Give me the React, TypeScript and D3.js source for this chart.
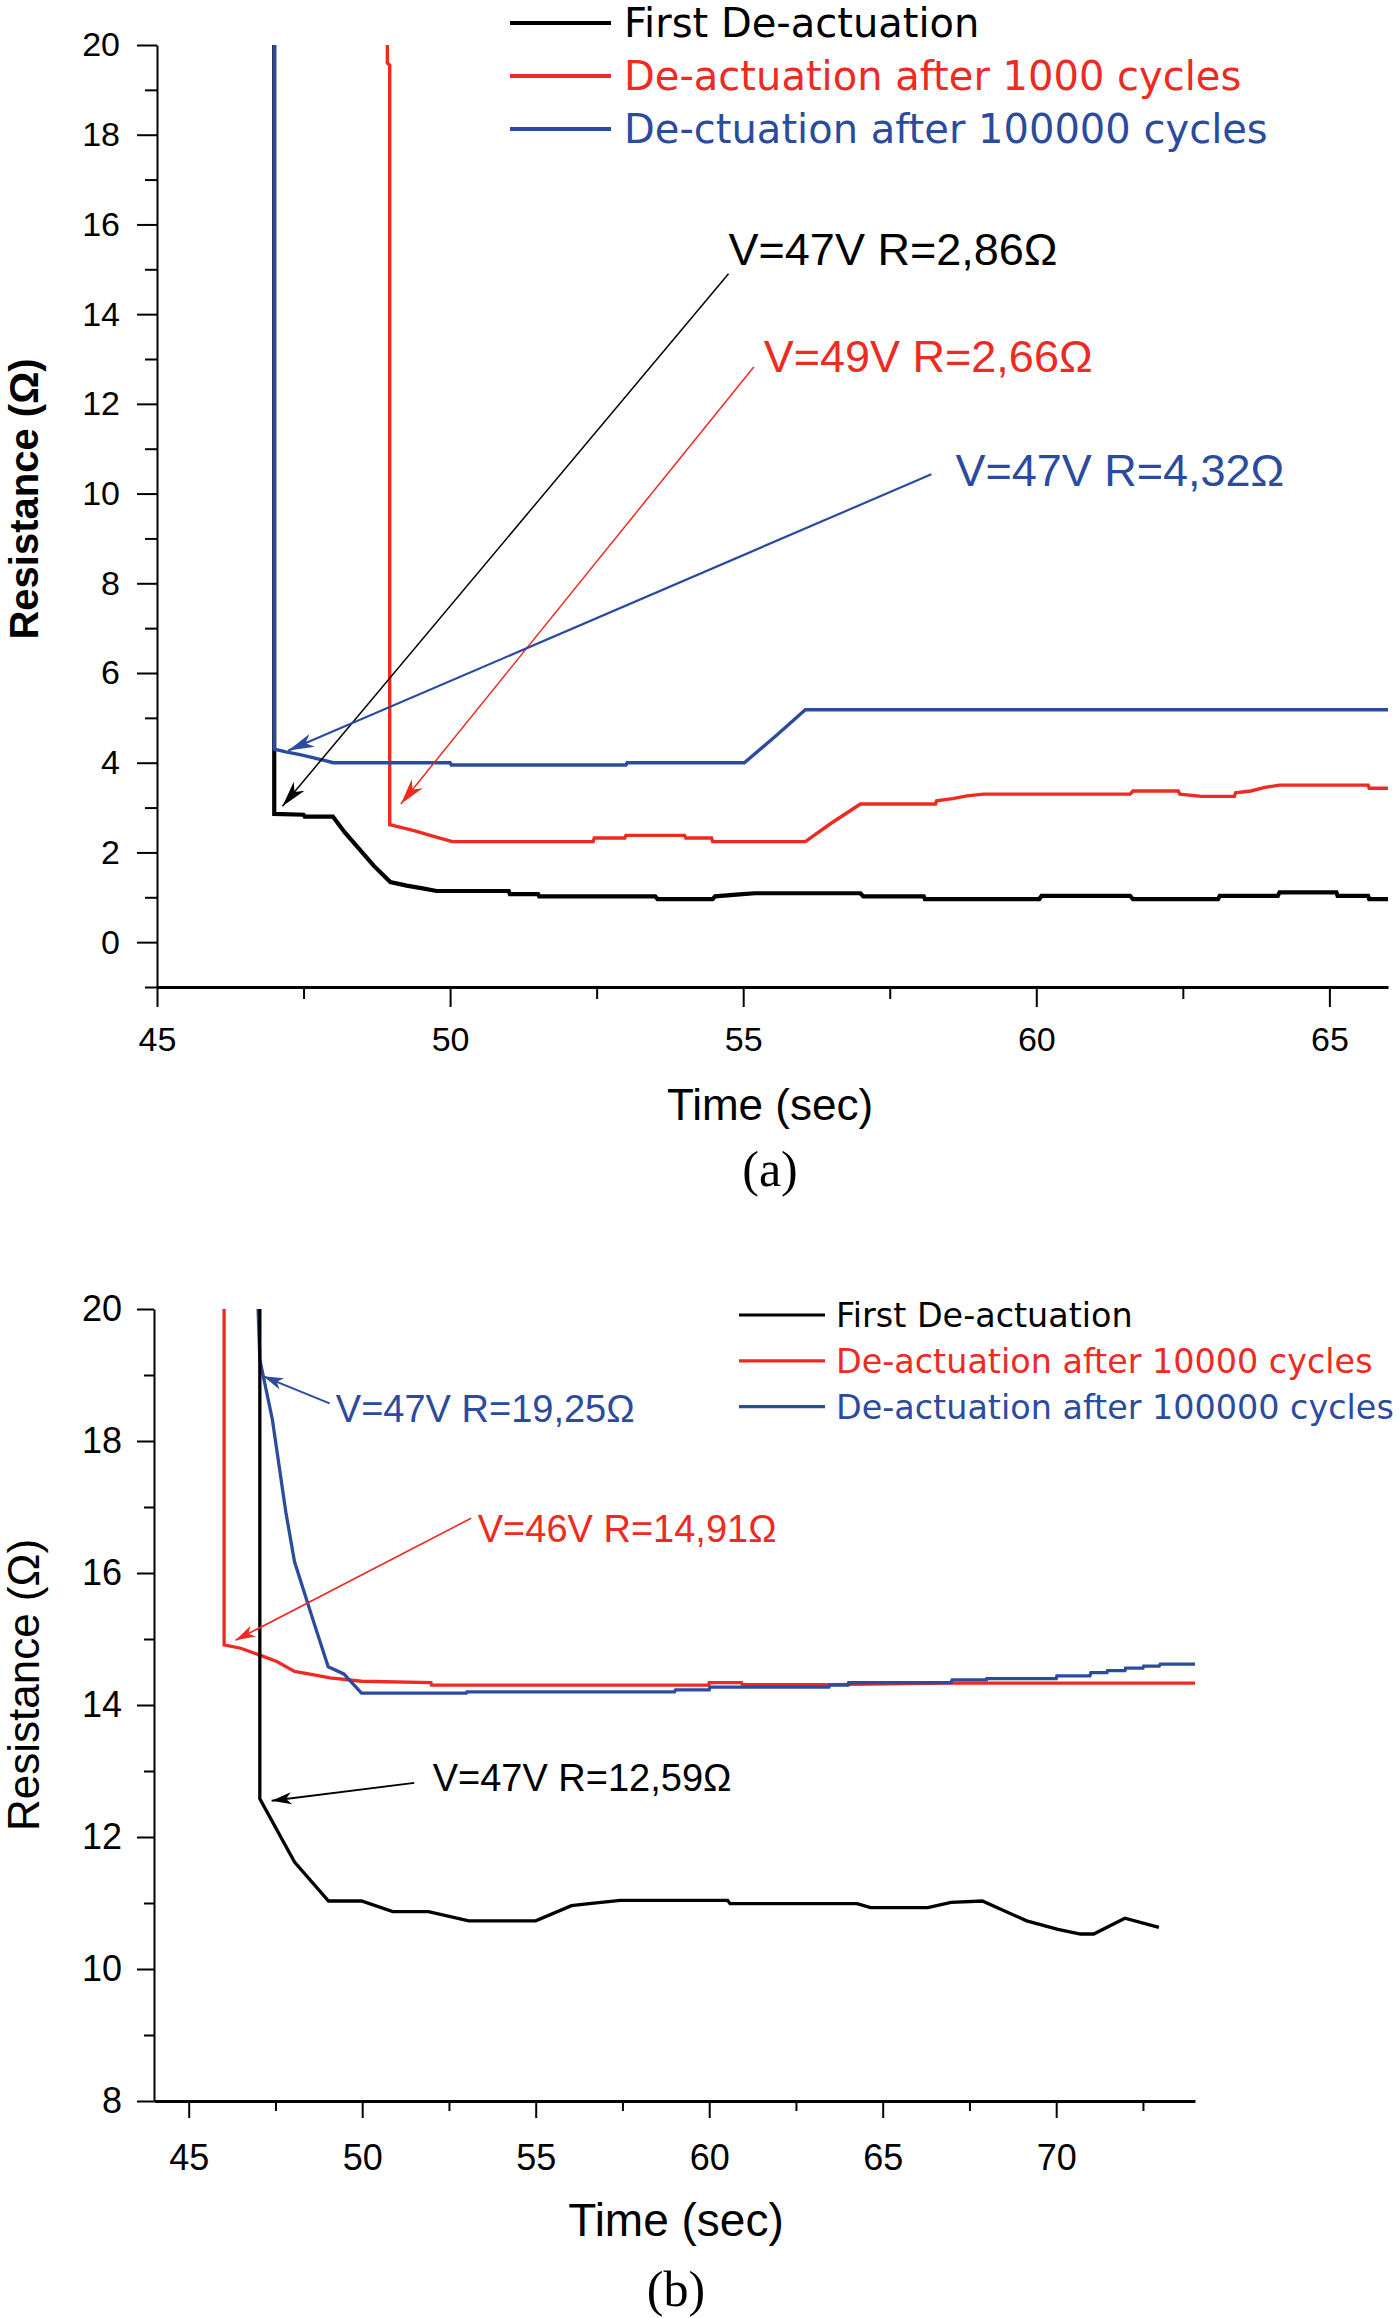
import * as d3 from "d3";
import { useEffect, useRef } from "react";

type Pt = [number, number];

const width = 1400;
const height = 2318;

// ---- panel (a) data: [time (sec), resistance (ohm)]
const firstA: Pt[] = [
  [47.0, 20], [47.0, 2.86], [47.5, 2.84], [47.52, 2.8], [48.0, 2.8], [48.2, 2.45], [48.7, 1.7],
  [48.98, 1.34], [49.26, 1.26], [49.53, 1.2], [49.77, 1.14], [51.0, 1.14], [51.02, 1.07], [51.5, 1.07],
  [51.52, 1.02], [53.5, 1.02], [53.54, 0.96], [54.48, 0.96], [54.52, 1.02], [54.99, 1.07], [55.2, 1.09],
  [57.0, 1.09], [57.05, 1.02], [58.08, 1.02], [58.1, 0.96], [60.05, 0.96], [60.09, 1.03], [61.6, 1.03],
  [61.65, 0.96], [63.1, 0.96], [63.13, 1.03], [64.12, 1.03], [64.15, 1.11], [65.12, 1.11], [65.14, 1.03],
  [65.66, 1.03], [65.68, 0.96], [66, 0.96]
];
const after1000A: Pt[] = [
  [48.93, 20], [48.93, 19.6], [48.97, 19.55], [48.97, 2.62], [49.16, 2.56], [49.4, 2.48], [49.66, 2.38],
  [49.87, 2.3], [50.04, 2.24], [52.44, 2.24], [52.46, 2.32], [52.98, 2.32], [53.0, 2.38], [54.0, 2.38],
  [54.02, 2.32], [54.46, 2.32], [54.48, 2.24], [56.06, 2.24], [56.5, 2.65], [57.0, 3.08], [58.28, 3.08],
  [58.3, 3.15], [58.57, 3.2], [58.82, 3.26], [59.1, 3.3], [61.6, 3.3], [61.65, 3.37], [62.42, 3.37],
  [62.45, 3.3], [62.82, 3.25], [63.38, 3.25], [63.4, 3.33], [63.66, 3.37], [63.9, 3.45], [64.15, 3.5],
  [65.66, 3.5], [65.68, 3.43], [66, 3.43]
];
const after100000A: Pt[] = [
  [47.0, 20], [47.0, 4.3], [47.2, 4.24], [47.44, 4.18], [47.64, 4.12], [48.01, 4.0], [50.0, 4.0],
  [50.02, 3.95], [53.0, 3.95], [53.02, 4.0], [55.02, 4.0], [55.56, 4.6], [56.06, 5.18], [66, 5.18]
];
const legendA = ["First De-actuation", "De-actuation after 1000 cycles", "De-ctuation after 100000 cycles"];
const notesA = ["V=47V R=2,86Ω", "V=49V R=2,66Ω", "V=47V R=4,32Ω"];
// label anchor, arrow start, arrow tip (data units)
const noteTextA: Pt[] = [[54.75, 15.09], [55.35, 12.71], [58.62, 10.17]];
const noteFromA: Pt[] = [[54.75, 14.9], [55.18, 12.82], [58.21, 10.43]];
const noteToA: Pt[] = [[47.14, 3.03], [49.16, 3.08], [47.24, 4.27]];
const xTicksA = [45, 50, 55, 60, 65];
const xMinorA = [47.5, 52.5, 57.5, 62.5];
const yTicksA = [0, 2, 4, 6, 8, 10, 12, 14, 16, 18, 20];
const yMinorA = [-1, 1, 3, 5, 7, 9, 11, 13, 15, 17, 19];

// ---- panel (b) data
const firstB: Pt[] = [
  [47.05, 20], [47.05, 12.58], [48.05, 11.62], [49.03, 11.03], [49.98, 11.03], [50.88, 10.87],
  [51.91, 10.87], [53.07, 10.73], [55.0, 10.73], [56.03, 10.96], [56.54, 10.99], [57.44, 11.04],
  [60.53, 11.04], [60.6, 10.99], [64.26, 10.99], [64.65, 10.93], [66.3, 10.93], [66.97, 11.01],
  [67.87, 11.03], [69.15, 10.73], [70.05, 10.6], [70.7, 10.53], [71.08, 10.53], [71.98, 10.77],
  [72.96, 10.63]
];
const after10000B: Pt[] = [
  [46.02, 20], [46.02, 14.91], [46.5, 14.86], [47.03, 14.76], [47.54, 14.66], [48.05, 14.51],
  [48.57, 14.46], [49.07, 14.41], [49.98, 14.36], [51.98, 14.34], [52.0, 14.3], [59.99, 14.3],
  [60.0, 14.34], [60.93, 14.34], [60.95, 14.31], [63.5, 14.31], [66.97, 14.33], [74, 14.33]
];
const after100000B: Pt[] = [
  [47.0, 20], [47.05, 19.23], [47.41, 18.33], [47.8, 16.92], [48.05, 16.17], [48.57, 15.31],
  [49.02, 14.58], [49.47, 14.47], [49.98, 14.18], [53.0, 14.18], [53.02, 14.2], [59.0, 14.2],
  [59.03, 14.23], [60.0, 14.23], [60.02, 14.27], [63.45, 14.27], [63.47, 14.3], [64.0, 14.3],
  [64.02, 14.34], [66.97, 14.34], [67.0, 14.38], [67.99, 14.38], [68.0, 14.4], [70.0, 14.4],
  [70.02, 14.44], [70.97, 14.44], [71.0, 14.49], [71.46, 14.49], [71.48, 14.52], [71.98, 14.52],
  [72.0, 14.56], [72.5, 14.56], [72.52, 14.59], [72.97, 14.59], [73.0, 14.62], [74, 14.62]
];
const legendB = ["First De-actuation", "De-actuation after 10000 cycles", "De-actuation after 100000 cycles"];
const notesB = ["V=47V R=12,59Ω", "V=46V R=14,91Ω", "V=47V R=19,25Ω"];
const noteTextB: Pt[] = [[52.03, 12.69], [53.33, 16.47], [49.24, 18.29]];
const noteFromB: Pt[] = [[51.5, 12.82], [53.14, 16.83], [49.06, 18.57]];
const noteToB: Pt[] = [[47.39, 12.55], [46.35, 14.98], [47.15, 18.98]];
const xTicksB = [45, 50, 55, 60, 65, 70];
const xMinorB = [47.5, 52.5, 57.5, 62.5, 67.5, 72.5];
const yTicksB = [8, 10, 12, 14, 16, 18, 20];
const yMinorB = [9, 11, 13, 15, 17, 19];

const colors = ["#000000", "#ee2a22", "#2b4c9e"];
const sans = "'Liberation Sans', Arial, sans-serif";
const wide = "'DejaVu Sans', Verdana, sans-serif";
const serif = "'Liberation Serif', 'Times New Roman', serif";

type Panel = {
  series: Pt[][];
  order: number[];
  xDomain: Pt;
  xRange: Pt;
  yDomain: Pt;
  yRange: Pt;
  xTicks: number[];
  xMinor: number[];
  yTicks: number[];
  yMinor: number[];
  major: number;
  minor: number;
  xPad: number;
  yPad: number;
  tickFont: number;
  lineWidth: number[];
  legend: string[];
  legendX: [number, number, number];
  legendY: number;
  legendStep: number;
  legendFont: number;
  legendLine: number;
  notes: string[];
  noteText: Pt[];
  noteFrom: Pt[];
  noteTo: Pt[];
  noteFont: number;
  noteWidth: number[];
  head: Pt;
};

const panels: Panel[] = [
  {
    series: [firstA, after1000A, after100000A],
    order: [0, 1, 2],
    xDomain: [45, 66],
    xRange: [157, 1388],
    yDomain: [-1, 20],
    yRange: [987, 45],
    xTicks: xTicksA,
    xMinor: xMinorA,
    yTicks: yTicksA,
    yMinor: yMinorA,
    major: 20,
    minor: 12,
    xPad: 20,
    yPad: 17,
    tickFont: 34,
    lineWidth: [4.2, 3.4, 3.4],
    legend: legendA,
    legendX: [510, 611, 624],
    legendY: 23,
    legendStep: 53,
    legendFont: 40,
    legendLine: 4,
    notes: notesA,
    noteText: noteTextA,
    noteFrom: noteFromA,
    noteTo: noteToA,
    noteFont: 45,
    noteWidth: [1.5, 1.5, 2.2],
    head: [26, 7]
  },
  {
    series: [firstB, after10000B, after100000B],
    order: [1, 2, 0],
    xDomain: [44, 74],
    xRange: [154, 1195],
    yDomain: [8, 20],
    yRange: [2101, 1309],
    xTicks: xTicksB,
    xMinor: xMinorB,
    yTicks: yTicksB,
    yMinor: yMinorB,
    major: 17,
    minor: 10,
    xPad: 26,
    yPad: 15,
    tickFont: 36,
    lineWidth: [3.3, 3.3, 3.3],
    legend: legendB,
    legendX: [739, 825, 836],
    legendY: 1315,
    legendStep: 45.8,
    legendFont: 33.4,
    legendLine: 3.2,
    notes: notesB,
    noteText: noteTextB,
    noteFrom: noteFromB,
    noteTo: noteToB,
    noteFont: 38,
    noteWidth: [2, 1.6, 2],
    head: [20, 6]
  }
];

function headPath(tip: Pt, from: Pt, len: number, half: number) {
  const a = Math.atan2(tip[1] - from[1], tip[0] - from[0]);
  const c = Math.cos(a);
  const s = Math.sin(a);
  const bx = tip[0] - c * len;
  const by = tip[1] - s * len;
  const nx = tip[0] - c * len * 0.72;
  const ny = tip[1] - s * len * 0.72;
  return `M${tip[0]},${tip[1]}L${bx - s * half},${by + c * half}L${nx},${ny}L${bx + s * half},${by - c * half}Z`;
}

function drawPanel(svg: d3.Selection<SVGSVGElement, unknown, null, undefined>, p: Panel) {
  const x = d3.scaleLinear(p.xDomain, p.xRange);
  const y = d3.scaleLinear(p.yDomain, p.yRange);
  const g = svg.append("g");
  const bottom = p.yRange[0];
  const left = p.xRange[0];

  // minor ticks
  g.append("g")
    .attr("transform", `translate(0,${bottom})`)
    .call(d3.axisBottom(x).tickValues(p.xMinor).tickSize(p.minor).tickFormat(() => ""))
    .call((a) => a.select(".domain").remove());
  g.append("g")
    .attr("transform", `translate(${left},0)`)
    .call(d3.axisLeft(y).tickValues(p.yMinor).tickSize(p.minor).tickFormat(() => ""))
    .call((a) => a.select(".domain").remove());

  const xAxis = g
    .append("g")
    .attr("transform", `translate(0,${bottom})`)
    .call(
      d3.axisBottom(x).tickValues(p.xTicks).tickSize(p.major).tickSizeOuter(0).tickPadding(p.xPad).tickFormat(d3.format("d"))
    );
  xAxis.select(".domain").attr("stroke-width", 3);

  const yAxis = g
    .append("g")
    .attr("transform", `translate(${left},0)`)
    .call(
      d3.axisLeft(y).tickValues(p.yTicks).tickSize(p.major).tickSizeOuter(0).tickPadding(p.yPad).tickFormat(d3.format("d"))
    );
  yAxis.select(".domain").attr("stroke-width", 2);

  g.selectAll(".tick line").attr("stroke", "#000").attr("stroke-width", 2);
  g.selectAll(".tick text").attr("font-family", sans).attr("font-size", p.tickFont).attr("fill", "#000");

  const line = d3
    .line<Pt>()
    .x((d) => x(d[0]))
    .y((d) => y(d[1]));

  p.order.forEach((i) => {
    g.append("path")
      .datum(p.series[i])
      .attr("d", line)
      .attr("fill", "none")
      .attr("stroke", colors[i])
      .attr("stroke-width", p.lineWidth[i]);
  });

  // legend
  p.legend.forEach((label, i) => {
    const ly = p.legendY + i * p.legendStep;
    g.append("line")
      .attr("x1", p.legendX[0])
      .attr("x2", p.legendX[1])
      .attr("y1", ly)
      .attr("y2", ly)
      .attr("stroke", colors[i])
      .attr("stroke-width", p.legendLine);
    g.append("text")
      .attr("x", p.legendX[2])
      .attr("y", ly)
      .attr("dy", "0.36em")
      .attr("font-family", wide)
      .attr("font-size", p.legendFont)
      .attr("fill", colors[i])
      .text(label);
  });

  // annotations with arrows
  p.notes.forEach((label, i) => {
    const from: Pt = [x(p.noteFrom[i][0]), y(p.noteFrom[i][1])];
    const tip: Pt = [x(p.noteTo[i][0]), y(p.noteTo[i][1])];
    g.append("line")
      .attr("x1", from[0])
      .attr("y1", from[1])
      .attr("x2", tip[0])
      .attr("y2", tip[1])
      .attr("stroke", colors[i])
      .attr("stroke-width", p.noteWidth[i]);
    g.append("path").attr("d", headPath(tip, from, p.head[0], p.head[1])).attr("fill", colors[i]);
    g.append("text")
      .attr("x", x(p.noteText[i][0]))
      .attr("y", y(p.noteText[i][1]))
      .attr("font-family", sans)
      .attr("font-size", p.noteFont)
      .attr("fill", colors[i])
      .text(label);
  });
}

export default function App() {
  const svgRef = useRef<SVGSVGElement | null>(null);

  useEffect(() => {
    if (!svgRef.current) {
      return;
    }
    const svg = d3.select(svgRef.current);
    svg.selectAll("g").remove();
    panels.forEach((p) => drawPanel(svg, p));
  }, []);

  return (
    <svg
      ref={svgRef}
      width={width}
      height={height}
      viewBox={`0 0 ${width} ${height}`}
      style={{ position: "absolute", left: 0, top: 0, background: "#fff", display: "block" }}
    >
      <text
        transform="translate(38,499) rotate(-90)"
        textAnchor="middle"
        fontFamily={sans}
        fontWeight="bold"
        fontSize={40}
      >
        Resistance (Ω)
      </text>
      <text x={770} y={1120} textAnchor="middle" fontFamily={sans} fontSize={44}>
        Time (sec)
      </text>
      <text x={770} y={1186} textAnchor="middle" fontFamily={serif} fontSize={50}>
        (a)
      </text>
      <text transform="translate(39,1685) rotate(-90)" textAnchor="middle" fontFamily={sans} fontSize={44}>
        Resistance (Ω)
      </text>
      <text x={676} y={2236} textAnchor="middle" fontFamily={sans} fontSize={46}>
        Time (sec)
      </text>
      <text x={676} y={2306} textAnchor="middle" fontFamily={serif} fontSize={50}>
        (b)
      </text>
    </svg>
  );
}
